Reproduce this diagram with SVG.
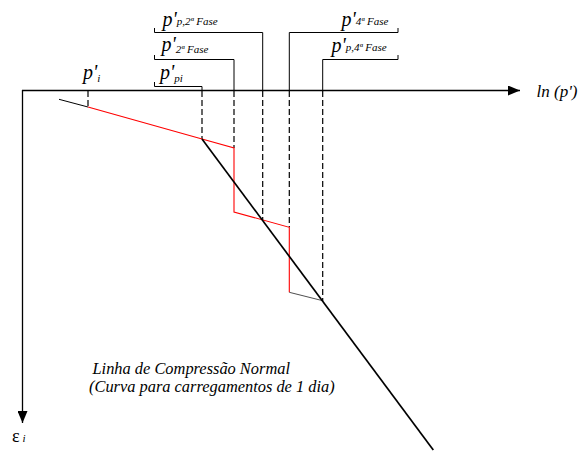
<svg xmlns="http://www.w3.org/2000/svg" width="586" height="461" viewBox="0 0 586 461">
<defs>
<marker id="arr" viewBox="0 0 12 10" refX="12" refY="5" markerWidth="12" markerHeight="10" markerUnits="userSpaceOnUse" orient="auto">
<path d="M0,0 L12,5 L0,10 Z" fill="#000"/>
</marker>
<style>
.big{font-size:20px}
.sub{font-size:11px}
.br{fill:none;stroke:#000;stroke-width:1}
.dash{fill:none;stroke:#000;stroke-width:1.2;stroke-dasharray:6,3}
.red{fill:none;stroke:#ff0000;stroke-width:1.1}
.ax{fill:none;stroke:#000;stroke-width:1.3}
</style>
</defs>
<rect width="586" height="461" fill="#fff"/>
<g font-family="'Liberation Serif', 'Times New Roman', serif" font-style="italic" fill="#000">
<g id="axes">
<line class="ax" x1="22" y1="90.5" x2="520" y2="90.5" marker-end="url(#arr)"/>
<line class="ax" x1="22.5" y1="90" x2="22.5" y2="423" marker-end="url(#arr)"/>
<text x="536.5" y="97" font-size="17">ln (p')</text>
<text x="12" y="442" font-style="normal" font-size="18">ε<tspan dx="3" font-size="11" font-style="italic">i</tspan></text>
</g>
<g id="connectors">
<polyline class="dash" points="88,91 88,107"/>
<polyline class="dash" points="202,91 202,139"/>
<polyline class="dash" points="234,91 234,148"/>
<polyline class="dash" points="262.7,91 262.7,220"/>
<polyline class="dash" points="289.3,91 289.3,227"/>
<polyline class="dash" points="322.7,91 322.7,301"/>
<polyline class="red" points="88,107 202,139 234,148 234,212 289.3,227.3 289.3,292.3"/>
<line x1="59" y1="99.3" x2="88" y2="107" stroke="#000" stroke-width="1"/>
<line x1="289.3" y1="292.3" x2="322.7" y2="300.7" stroke="#222" stroke-width="0.8"/>
<line x1="202" y1="139" x2="433.3" y2="450" stroke="#000" stroke-width="1.7"/>
</g>
<g id="label-pi">
<text x="83" y="79"><tspan class="big">p'</tspan><tspan class="sub" dy="3">i</tspan></text>
</g>
<g id="label-ppi">
<polyline class="br" points="154.5,82 154.5,86.5 202,86.5 202,91"/>
<text x="160" y="79"><tspan class="big">p'</tspan><tspan class="sub" dy="3">pi</tspan></text>
</g>
<g id="label-p2fase">
<polyline class="br" points="154.5,55 154.5,59.5 234,59.5 234,91"/>
<text x="161.5" y="51"><tspan class="big">p'</tspan><tspan class="sub" dy="2">2ª Fase</tspan></text>
</g>
<g id="label-pp2fase">
<polyline class="br" points="154.5,28 154.5,32.5 262.7,32.5 262.7,91"/>
<text x="162.5" y="25.5"><tspan class="big">p'</tspan><tspan class="sub" dy="-1">p,2ª Fase</tspan></text>
</g>
<g id="label-p4fase">
<polyline class="br" points="289.3,91 289.3,32.5 398,32.5 398,28"/>
<text x="341.5" y="25.5"><tspan class="big">p'</tspan><tspan class="sub" dy="-1">4ª Fase</tspan></text>
</g>
<g id="label-pp4fase">
<polyline class="br" points="322.7,91 322.7,59.5 398,59.5 398,55"/>
<text x="331.5" y="51.5"><tspan class="big">p'</tspan><tspan class="sub" dy="-1">p,4ª Fase</tspan></text>
</g>
<g id="caption">
<text x="92.5" y="374" font-size="16.4">Linha de Compressão Normal</text>
<text x="89" y="391.5" font-size="16.4">(Curva para carregamentos de 1 dia)</text>
</g>
</g>
</svg>
